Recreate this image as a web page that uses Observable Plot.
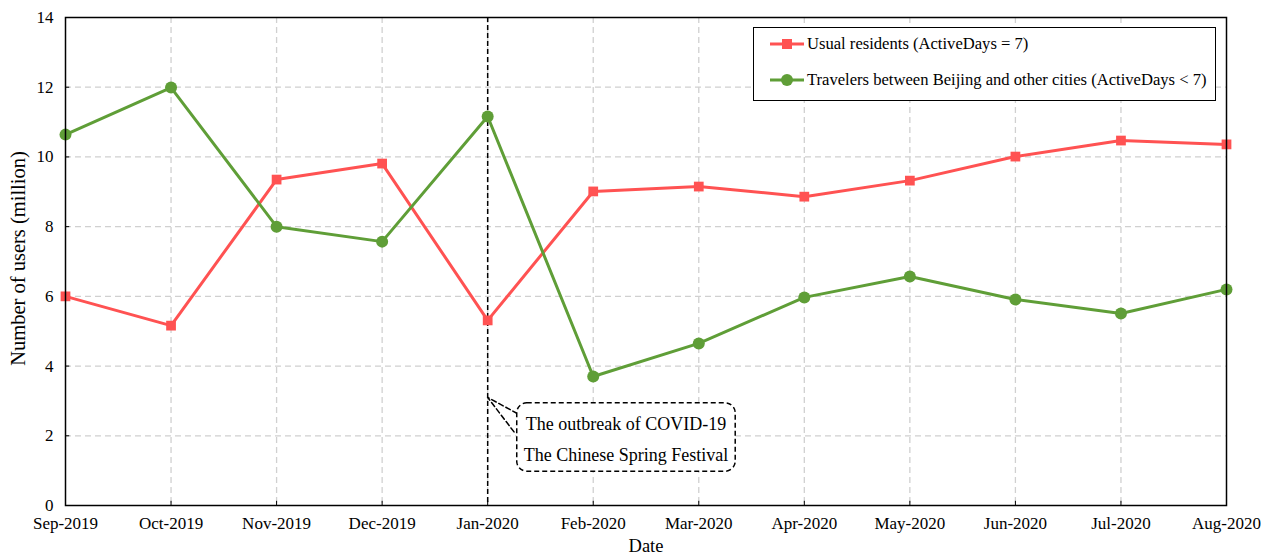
<!DOCTYPE html>
<html>
<head>
<meta charset="utf-8">
<script src="https://cdn.jsdelivr.net/npm/d3@7"></script>
<script src="https://cdn.jsdelivr.net/npm/@observablehq/plot@0.6"></script>
<style>
  body { margin: 0; background: #fff; }
  #wrap { position: relative; width: 1267px; height: 557px; font-family: "Liberation Serif", "Times New Roman", serif; }
  #legend { position: absolute; left: 753px; top: 27px; width: 461px; height: 72px; border: 1.5px solid #000; background: #fff; font-size: 16.6px; }
  .item { position: absolute; left: 16px; display: flex; align-items: center; white-space: nowrap; }
  .item svg { margin-right: 3px; }
</style>
</head>
<body>
<div id="wrap"><div id="legend"></div></div>
<script>
const months = ["Sep-2019","Oct-2019","Nov-2019","Dec-2019","Jan-2020","Feb-2020","Mar-2020","Apr-2020","May-2020","Jun-2020","Jul-2020","Aug-2020"];
const residents = [6.0, 5.16, 9.35, 9.81, 5.31, 9.01, 9.15, 8.86, 9.32, 10.01, 10.47, 10.36];
const travelers = [10.64, 11.99, 8.0, 7.57, 11.16, 3.70, 4.65, 5.97, 6.57, 5.91, 5.51, 6.2];
const yTicks = [0, 2, 4, 6, 8, 10, 12, 14];
const seriesNames = ["Usual residents (ActiveDays = 7)", "Travelers between Beijing and other cities (ActiveDays < 7)"];
const colors = ["#ff5252", "#5f9e37"];
const eventIndex = 4;
const calloutLines = ["The outbreak of COVID-19", "The Chinese Spring Festival"];
const calloutBox = [{x1: 4.28, x2: 6.35, y1: 0.97, y2: 2.93}];
const calloutTail = [[4.28, 2.64], [4.0, 3.1], [4.26, 2.07]];
const calloutText = [{x: 5.31, y: 2.32, t: calloutLines[0]}, {x: 5.31, y: 1.43, t: calloutLines[1]}];

const idx = d3.range(months.length);
const resData = idx.map(i => ({i, v: residents[i]}));
const trvData = idx.map(i => ({i, v: travelers[i]}));

const chart = Plot.plot({
  width: 1267,
  height: 557,
  marginLeft: 65,
  marginRight: 41,
  marginTop: 17,
  marginBottom: 52,
  style: {fontFamily: "Liberation Serif, Times New Roman, serif", fontSize: "17px", color: "#000", background: "#fff"},
  x: {domain: [0, months.length - 1], label: null},
  y: {domain: [0, 14], label: null},
  marks: [
    Plot.ruleY(yTicks.slice(1, -1), {stroke: "#d0d0d0", strokeWidth: 1.3, strokeDasharray: "6,4"}),
    Plot.ruleX(idx.slice(1, -1), {stroke: "#d0d0d0", strokeWidth: 1.3, strokeDasharray: "6,4"}),
    Plot.ruleX(idx.slice(1, -1), {y1: 0, y2: 0.12, stroke: "#000", strokeWidth: 1}),
    Plot.ruleY(yTicks.slice(1, -1), {x1: 0, x2: 0.04, stroke: "#000", strokeWidth: 1}),
    Plot.ruleX([eventIndex], {stroke: "#000", strokeWidth: 1.5, strokeDasharray: "5,3"}),
    Plot.line(calloutTail, {x: d => d[0], y: d => d[1], stroke: "#000", strokeWidth: 1.5, strokeDasharray: "5,3", fill: "white"}),
    Plot.rect(calloutBox, {x1: "x1", x2: "x2", y1: "y1", y2: "y2", rx: 10, fill: "white", stroke: "#000", strokeWidth: 1.5, strokeDasharray: "5,3"}),
    Plot.text(calloutText, {x: "x", y: "y", text: "t", fontSize: 18, fill: "#000"}),
    Plot.line(resData, {x: "i", y: "v", stroke: colors[0], strokeWidth: 3}),
    Plot.dot(resData, {x: "i", y: "v", symbol: "square", r: 5.5, fill: colors[0]}),
    Plot.line(trvData, {x: "i", y: "v", stroke: colors[1], strokeWidth: 3}),
    Plot.dot(trvData, {x: "i", y: "v", r: 6, fill: colors[1]}),
    Plot.frame({stroke: "#000", strokeWidth: 1.5}),
    Plot.axisX(idx, {tickFormat: i => months[i], tickSize: 0, tickPadding: 11, label: null, fontSize: 17}),
    Plot.axisY(yTicks, {tickSize: 0, tickPadding: 12, label: null, fontSize: 17}),
    Plot.text(["Number of users (million)"], {frameAnchor: "left", textAnchor: "middle", lineAnchor: "middle", dx: -47, dy: -3, rotate: -90, fontSize: 20.5, fill: "#000"}),
    Plot.text(["Date"], {frameAnchor: "bottom", lineAnchor: "middle", dy: 41, fontSize: 18.5, fill: "#000"})
  ]
});
const wrap = document.getElementById("wrap");
wrap.insertBefore(chart, wrap.firstChild);

const legend = document.getElementById("legend");
seriesNames.forEach((name, k) => {
  const item = document.createElement("div");
  item.className = "item";
  item.style.top = (k === 0 ? 6 : 42) + "px";
  const marker = k === 0
    ? `<rect x="12" y="5" width="10" height="10" fill="${colors[0]}"/>`
    : `<circle cx="17" cy="10" r="6" fill="${colors[1]}"/>`;
  item.innerHTML = `<svg width="34" height="20"><line x1="0" x2="34" y1="10" y2="10" stroke="${colors[k]}" stroke-width="3"/>${marker}</svg><span>${name}</span>`;
  legend.appendChild(item);
});
</script>
</body>
</html>
